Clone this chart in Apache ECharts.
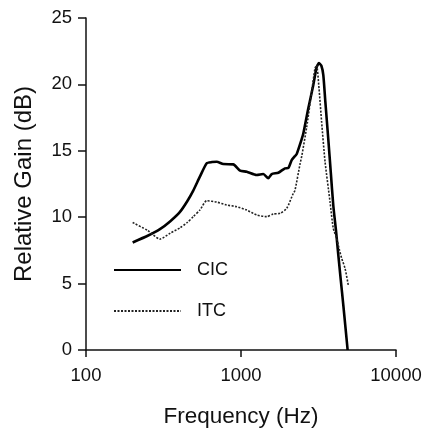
<!DOCTYPE html>
<html>
<head>
<meta charset="utf-8">
<script src="https://cdn.jsdelivr.net/npm/echarts@6/dist/echarts.min.js"></script>
<style>
html,body{margin:0;padding:0;background:#fff;}
#chart{width:427px;height:429px;}
</style>
</head>
<body>
<div id="chart"></div>
<script>
var xTickLabels = ['100', '1000', '10000'];
var yTickLabels = ['0', '5', '10', '15', '20', '25'];
var seriesNames = ['CIC', 'ITC'];

var cicFreq = [200, 250, 300, 350, 404, 450, 492, 543, 601, 650, 697, 769, 891, 986, 1089, 1262, 1393, 1500, 1578, 1742, 1923, 2018, 2123, 2228, 2286, 2466, 2524, 2718, 2927, 3076, 3186, 3300, 3397, 3500, 3656, 3800, 3938, 4100, 4245, 4400, 4570, 4720, 4875];
var cicGain = [8.1, 8.6, 9.1, 9.7, 10.4, 11.2, 12.0, 13.05, 14.06, 14.15, 14.18, 14.0, 13.98, 13.5, 13.43, 13.18, 13.25, 12.93, 13.25, 13.35, 13.68, 13.7, 14.3, 14.6, 14.75, 15.9, 16.3, 18.2, 19.95, 21.3, 21.6, 21.4, 20.7, 18.7, 15.9, 13.3, 10.9, 9.0, 7.15, 5.3, 3.4, 1.7, 0];

var itcFreq = [200, 250, 300, 350, 404, 450, 492, 543, 601, 697, 807, 938, 1089, 1262, 1465, 1614, 1786, 1973, 2175, 2228, 2403, 2466, 2655, 2858, 3000, 3076, 3186, 3311, 3485, 3752, 3938, 4143, 4300, 4463, 4690, 4921];
var itcGain = [9.6, 9.0, 8.35, 8.8, 9.2, 9.6, 10.04, 10.54, 11.24, 11.14, 10.92, 10.79, 10.54, 10.17, 10.04, 10.24, 10.29, 10.67, 11.8, 12.0, 14.0, 14.6, 16.8, 19.45, 21.2, 21.45, 19.7, 17.2, 14.18, 11.17, 9.16, 8.41, 7.6, 6.9, 6.15, 4.9];

function pairs(xs, ys) { return xs.map(function (x, i) { return [x, ys[i]]; }); }

var FONT = '"Liberation Sans", Arial, sans-serif';
var chart = echarts.init(document.getElementById('chart'), null, {renderer: 'canvas'});
chart.setOption({
  animation: false,
  backgroundColor: '#ffffff',
  grid: {left: 86, right: 31, top: 18, bottom: 79, containLabel: false, outerBoundsMode: 'none'},
  legend: {
    orient: 'vertical',
    left: 108,
    top: 256,
    itemWidth: 67,
    itemHeight: 14,
    itemGap: 23,
    data: seriesNames,
    itemStyle: {opacity: 0},
    textStyle: {fontFamily: FONT, fontSize: 18, color: '#111', padding: [0, 0, 0, 11]}
  },
  xAxis: {
    type: 'log',
    logBase: 10,
    min: 100,
    max: 10000,
    name: 'Frequency (Hz)',
    nameLocation: 'middle',
    nameGap: 55,
    nameTextStyle: {fontFamily: FONT, fontSize: 22.5, color: '#111'},
    axisLine: {lineStyle: {color: '#111', width: 1.5}},
    axisTick: {show: true, length: 7, lineStyle: {color: '#111', width: 1.5}},
    axisLabel: {
      fontFamily: FONT, fontSize: 18.5, color: '#111', margin: 16,
      formatter: function (v) { var i = Math.round(Math.log10(v)) - 2; return xTickLabels[i] !== undefined ? xTickLabels[i] : ''; }
    },
    splitLine: {show: false},
    minorTick: {show: false}
  },
  yAxis: {
    type: 'value',
    min: 0,
    max: 25,
    interval: 5,
    name: 'Relative Gain (dB)',
    nameLocation: 'middle',
    nameGap: 50,
    nameTextStyle: {fontFamily: FONT, fontSize: 24, color: '#111'},
    axisLine: {show: true, lineStyle: {color: '#111', width: 1.5}},
    axisTick: {show: true, length: 8, lineStyle: {color: '#111', width: 1.5}},
    axisLabel: {
      fontFamily: FONT, fontSize: 18.5, color: '#111', margin: 14,
      formatter: function (v) { return yTickLabels[Math.round(v / 5)]; }
    },
    splitLine: {show: false}
  },
  series: [
    {
      name: seriesNames[0],
      type: 'line',
      data: pairs(cicFreq, cicGain),
      showSymbol: false,
      symbol: 'none',
      smooth: 0.2,
      lineStyle: {color: '#000', width: 2.6, type: 'solid'},
      itemStyle: {color: '#000'}
    },
    {
      name: seriesNames[1],
      type: 'line',
      data: pairs(itcFreq, itcGain),
      showSymbol: false,
      symbol: 'none',
      smooth: 0.2,
      lineStyle: {color: '#222', width: 1.6, type: [2, 1.5]},
      itemStyle: {color: '#222'}
    }
  ]
});
</script>
</body>
</html>
